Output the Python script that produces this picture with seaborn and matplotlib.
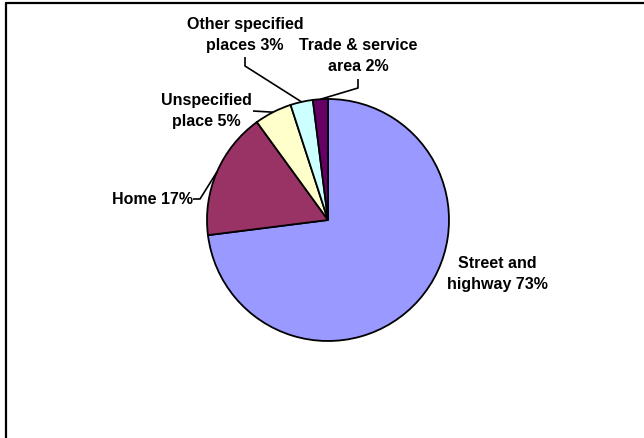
import numpy as np
import matplotlib
matplotlib.use("Agg")
import matplotlib.pyplot as plt
from matplotlib.lines import Line2D
import seaborn as sns

# Injury locations, share of cases (%)
categories = ["Street and\nhighway", "Home", "Unspecified\nplace",
              "Other specified\nplaces", "Trade & service\narea"]
shares = [73, 17, 5, 3, 2]
colors = ["#9999FF", "#993366", "#FFFFCC", "#CCFFFF", "#660066"]

sns.set_theme(style="white")
plt.rcParams["font.family"] = ["Liberation Sans", "DejaVu Sans"]

W, H = 644, 438
fig = plt.figure(figsize=(W / 100, H / 100), dpi=100)
ax = fig.add_axes([0, 0, 1, 1])

cx, cy, r = 328, H - 220, 121
wedges, _ = ax.pie(shares, colors=colors, startangle=90, counterclock=False,
                   center=(cx, cy), radius=r, frame=True,
                   wedgeprops=dict(edgecolor="black", linewidth=1.3))
ax.set_xlim(0, W)
ax.set_ylim(0, H)
ax.set_aspect("equal")
ax.axis("off")

# Label anchor (x, y from top) and leader-line elbows (from top) per slice
label_pos = [(497, 274), (153, 200), (206, 111), (245, 35), (358, 56)]
elbows = [None,
          [(200, 199), (193, 199)],
          [(253, 111)],
          [(245, 66), (245, 57)],
          [(358, 88), (358, 79)]]

for w, cat, val, (lx, ly), elb in zip(wedges, categories, shares, label_pos, elbows):
    ax.text(lx, H - ly, f"{cat} {val}%", ha="center", va="center",
            fontsize=11.5, fontweight="bold", color="black", linespacing=1.45)
    if elb is not None:
        mid = np.deg2rad((w.theta1 + w.theta2) / 2)
        pts = [(cx + r * np.cos(mid), cy + r * np.sin(mid))]
        pts += [(x, H - y) for x, y in elb]
        xs, ys = zip(*pts)
        ax.plot(xs, ys, color="black", linewidth=1.2, solid_capstyle="butt")

# Chart frame edges
fig.add_artist(Line2D([6 / W, 6 / W], [0, 1 - 3 / H], transform=fig.transFigure,
                      color="black", linewidth=1.6))
fig.add_artist(Line2D([6 / W, 1], [1 - 3 / H, 1 - 3 / H], transform=fig.transFigure,
                      color="black", linewidth=1.6))

fig.savefig("out.png", dpi=100)
